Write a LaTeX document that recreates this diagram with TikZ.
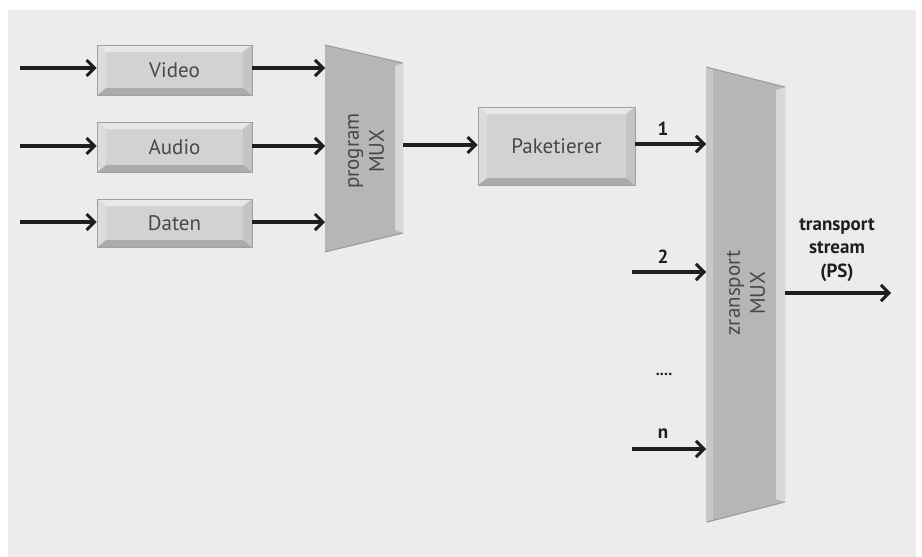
\documentclass[tikz,border=0pt]{standalone}
\usepackage{fontspec}
\setmainfont{PT Sans}
\usetikzlibrary{arrows.meta,calc}

\definecolor{panel}{HTML}{EDEBEB}
\definecolor{bevtop}{HTML}{E8E8E8}
\definecolor{bevleft}{HTML}{DCDCDC}
\definecolor{bevright}{HTML}{C4C4C4}
\definecolor{bevbot}{HTML}{ABABAB}
\definecolor{boxface}{HTML}{D2D2D2}
\definecolor{boxrim}{HTML}{A0A0A0}
\definecolor{muxface}{HTML}{B6B6B6}
\definecolor{muxlight}{HTML}{D8D8D8}
\definecolor{muxdark}{HTML}{9A9A9A}
\definecolor{ink}{HTML}{1E1E1E}
\definecolor{labelgrey}{HTML}{484848}

\newcommand{\boxfont}{\fontsize{21}{25}\selectfont}
\newcommand{\tagfont}{\fontsize{19}{23.5}\selectfont\bfseries}

\begin{document}
\begin{tikzpicture}[x=1pt,y=-1pt,
  flow/.style={draw=ink, line width=3.3pt,
    -{Straight Barb[length=8pt,width=16pt,line width=3pt]}},
  tag/.style={font=\tagfont, text=ink, inner sep=1pt},
  muxtext/.style={rotate=90, align=center, font=\boxfont, text=labelgrey},
  bevelbox/.style={minimum width=155pt, minimum height=50pt, inner sep=0pt,
    font=\boxfont, text=labelgrey, draw=boxrim, line width=0.6pt,
    path picture={
      \coordinate (bsw) at (path picture bounding box.south west);
      \coordinate (bne) at (path picture bounding box.north east);
      \coordinate (bnw) at (bsw |- bne);
      \coordinate (bse) at (bne |- bsw);
      \fill[boxface] (bsw) rectangle (bne);
      \fill[bevtop] (bnw) -- (bne) -- ([shift={(-9pt,-7pt)}]bne)
        -- ([shift={(9pt,-7pt)}]bnw) -- cycle;
      \fill[bevbot] (bsw) -- (bse) -- ([shift={(-9pt,7pt)}]bse)
        -- ([shift={(9pt,7pt)}]bsw) -- cycle;
      \fill[bevleft] (bnw) -- (bsw) -- ([shift={(9pt,7pt)}]bsw)
        -- ([shift={(9pt,-7pt)}]bnw) -- cycle;
      \fill[bevright] (bne) -- (bse) -- ([shift={(-9pt,7pt)}]bse)
        -- ([shift={(-9pt,-7pt)}]bne) -- cycle;
    }},
]
% page and panel
\useasboundingbox (0,0) rectangle (922,557);
\fill[white] (0,0) rectangle (922,557);
\fill[panel] (8,10) rectangle (916,557);

% source blocks
\node[bevelbox] (video) at (174.5,70) {Video};
\node[bevelbox] (audio) at (174.5,147) {Audio};
\node[bevelbox, minimum height=48pt] (daten) at (174.5,223) {Daten};

% program multiplexer
\fill[muxface] (325,45) -- (403,63) -- (403,233) -- (325,252) -- cycle;
\fill[muxlight] (395,66) -- (403,63) -- (403,233) -- (395,230) -- cycle;
\draw[muxdark, line width=1pt] (325,45) -- (403,63);
\draw[muxdark, line width=1pt] (325,252) -- (403,233);
\node[muxtext] (pmux) at (366,151) {program\\MUX};
\coordinate (pm-in1) at (325,68);
\coordinate (pm-in2) at (325,146);
\coordinate (pm-in3) at (325,222);
\coordinate (pm-out) at (403,145);

% packetizer
\node[bevelbox, minimum width=157pt, minimum height=78pt] (paket) at (556.5,146) {Paketierer};

% transport multiplexer
\fill[muxface] (706,67) -- (785,87) -- (785,502) -- (709,522) -- (706,522) -- cycle;
\fill[muxlight] (776,90) -- (785,87) -- (785,502) -- (776,499) -- cycle;
\fill[white, opacity=0.25] (706,67) -- (713,69) -- (713,520) -- (706,522) -- cycle;
\draw[muxdark, line width=1pt] (706,67) -- (785,87);
\draw[muxdark, line width=1pt] (707,522) -- (785,502);
\node[muxtext] (tmux) at (746,293) {zransport\\MUX};
\coordinate (tm-in1) at (706,144);
\coordinate (tm-in2) at (706,272);
\coordinate (tm-inn) at (706,449);
\coordinate (tm-out) at (785,293);

% free ends of the connectors
\coordinate (v-src) at (20,68);
\coordinate (a-src) at (20,146);
\coordinate (d-src) at (20,222);
\coordinate (s2-src) at (632,272);
\coordinate (sn-src) at (632,449);
\coordinate (ts-dst) at (891,293);

% connectors
\draw[flow] (v-src) -- (v-src -| video.west);
\draw[flow] (a-src) -- (a-src -| audio.west);
\draw[flow] (d-src) -- (d-src -| daten.west);
\draw[flow] (pm-in1 -| video.east) -- (pm-in1);
\draw[flow] (pm-in2 -| audio.east) -- (pm-in2);
\draw[flow] (pm-in3 -| daten.east) -- (pm-in3);
\draw[flow] (pm-out) -- (pm-out -| paket.west);
\draw[flow] (tm-in1 -| paket.east) -- (tm-in1);
\draw[flow] (s2-src) -- (tm-in2);
\draw[flow] (sn-src) -- (tm-inn);
\draw[flow] (tm-out) -- (ts-dst);

% labels
\node[tag] (l1) at (663,129) {1};
\node[tag] (l2) at (663,257) {2};
\node[tag, font=\fontsize{16}{18}\selectfont\bfseries] (ldots) at (664,374) {....};
\node[tag] (ln) at (663,434) {n};
\node[tag, align=center] (lts) at (837,250) {transport\\stream\\(PS)};
\end{tikzpicture}
\end{document}
